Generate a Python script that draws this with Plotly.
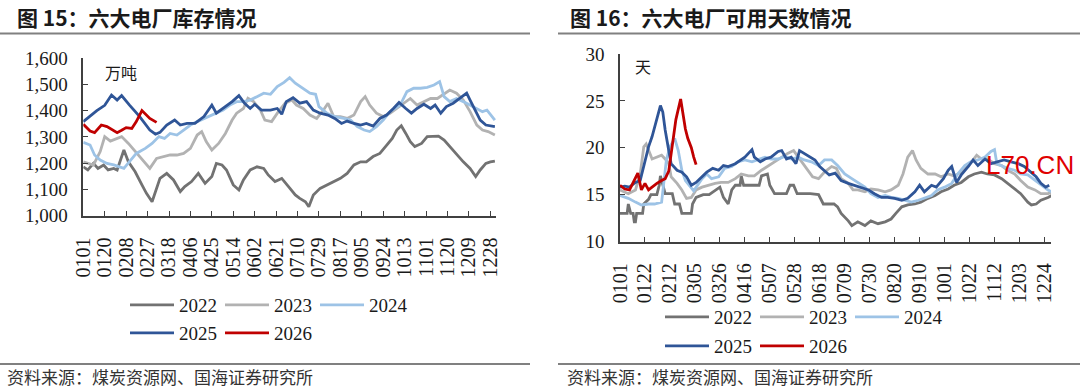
import plotly.graph_objects as go
from datetime import date


def doy(mmdd):
    return (date(2023, int(mmdd[:2]), int(mmdd[2:])) - date(2023, 1, 1)).days


years = ["2022", "2023", "2024", "2025", "2026"]
colors = {"2022": "#727272", "2023": "#b2b2b2", "2024": "#9dc3e6",
          "2025": "#2f5597", "2026": "#c00000"}

left_tick_labels = ["0101", "0120", "0208", "0227", "0318", "0406", "0425", "0514",
                    "0602", "0621", "0710", "0729", "0817", "0905", "0924", "1013",
                    "1101", "1120", "1209", "1228"]
right_tick_labels = ["0101", "0122", "0212", "0305", "0326", "0416", "0507", "0528",
                     "0618", "0709", "0730", "0820", "0910", "1001", "1022", "1112",
                     "1203", "1224"]

# ---------- 图15 六大电厂库存 (万吨), x = day of year ----------
inv_2022_day = [0, 4, 9, 13, 18, 22, 27, 30, 33, 36, 40, 46, 52, 56, 61, 64, 68, 74, 80, 86,
                90, 96, 102, 108, 114, 118, 123, 127, 133, 138, 142, 148, 154, 160, 164, 170,
                176, 182, 188, 192, 197, 200, 204, 210, 216, 222, 228, 234, 240, 246, 251,
                257, 263, 268, 274, 278, 282, 286, 290, 294, 300, 305, 311, 315, 320, 325,
                331, 337, 343, 348, 352, 357, 361, 365]
inv_2022_val = [1186, 1174, 1199, 1180, 1193, 1174, 1180, 1174, 1212, 1250, 1205, 1167, 1117,
                1085, 1053, 1092, 1142, 1161, 1136, 1092, 1111, 1130, 1161, 1123, 1149, 1199,
                1193, 1174, 1117, 1098, 1136, 1174, 1186, 1180, 1155, 1130, 1142, 1111, 1079,
                1066, 1053, 1034, 1079, 1104, 1117, 1130, 1142, 1161, 1193, 1205, 1205, 1225,
                1237, 1263, 1294, 1326, 1342, 1313, 1282, 1263, 1275, 1301, 1301, 1303, 1288,
                1263, 1231, 1205, 1180, 1149, 1174, 1199, 1205, 1208]

inv_2023_day = [0, 9, 15, 19, 24, 30, 34, 40, 46, 52, 59, 65, 71, 77, 83, 89, 95, 101, 105,
                109, 114, 120, 126, 132, 136, 142, 146, 151, 157, 161, 167, 173, 179, 185,
                189, 195, 201, 207, 213, 217, 222, 228, 234, 240, 246, 250, 254, 260, 266,
                272, 278, 284, 290, 296, 302, 308, 314, 320, 325, 331, 337, 343, 349, 354,
                359, 365]
inv_2023_val = [1205, 1193, 1244, 1301, 1284, 1294, 1301, 1275, 1244, 1212, 1180, 1218, 1225,
                1231, 1231, 1237, 1256, 1307, 1320, 1282, 1250, 1275, 1313, 1364, 1390, 1408,
                1447, 1434, 1402, 1364, 1358, 1396, 1428, 1440, 1421, 1408, 1383, 1370, 1402,
                1428, 1377, 1377, 1370, 1383, 1434, 1453, 1421, 1390, 1377, 1390, 1408, 1428,
                1446, 1421, 1434, 1446, 1446, 1462, 1478, 1466, 1440, 1396, 1345, 1326, 1320,
                1307]

inv_2024_day = [0, 6, 10, 15, 21, 27, 36, 41, 47, 55, 61, 67, 72, 77, 83, 89, 95, 101, 107,
                112, 118, 124, 130, 136, 142, 148, 154, 160, 166, 172, 178, 183, 188, 194,
                201, 206, 209, 216, 223, 231, 237, 243, 249, 254, 260, 266, 272, 281, 287,
                293, 299, 305, 311, 316, 320, 325, 331, 337, 343, 349, 354, 358, 365]
inv_2024_val = [1279, 1269, 1231, 1212, 1199, 1193, 1180, 1205, 1237, 1256, 1275, 1301, 1294,
                1313, 1307, 1326, 1345, 1358, 1370, 1377, 1390, 1402, 1421, 1434, 1434, 1440,
                1453, 1466, 1462, 1491, 1507, 1525, 1504, 1485, 1466, 1462, 1415, 1390, 1377,
                1370, 1364, 1339, 1326, 1320, 1339, 1364, 1396, 1421, 1472, 1485, 1485, 1488,
                1497, 1510, 1453, 1434, 1446, 1434, 1421, 1408, 1396, 1402, 1364]

inv_2025_day = [0, 12, 19, 25, 30, 34, 41, 50, 59, 64, 68, 74, 81, 86, 92, 99, 107, 114, 118,
                124, 132, 138, 143, 148, 152, 158, 166, 172, 176, 180, 186, 192, 198, 204,
                210, 217, 223, 229, 234, 240, 246, 251, 257, 263, 269, 275, 280, 286, 291,
                296, 302, 308, 312, 317, 322, 328, 334, 340, 343, 348, 352, 357, 365]
inv_2025_val = [1358, 1400, 1420, 1459, 1440, 1457, 1421, 1377, 1326, 1310, 1317, 1345, 1364,
                1345, 1351, 1351, 1377, 1421, 1390, 1408, 1434, 1457, 1428, 1408, 1424, 1402,
                1402, 1408, 1386, 1434, 1449, 1428, 1434, 1402, 1390, 1383, 1370, 1351, 1360,
                1351, 1345, 1351, 1341, 1370, 1383, 1408, 1431, 1408, 1390, 1408, 1424, 1408,
                1421, 1390, 1415, 1428, 1446, 1466, 1440, 1396, 1364, 1345, 1339]

inv_2026_day = [0, 6, 10, 12, 16, 21, 25, 30, 34, 38, 43, 47, 52, 55, 59, 65]
inv_2026_val = [1348, 1322, 1316, 1325, 1345, 1339, 1330, 1316, 1325, 1335, 1332, 1358, 1400,
                1388, 1370, 1355]

# ---------- 图16 六大电厂可用天数 (天) ----------
days_2022_day = [0, 6, 7, 9, 11, 12, 13, 14, 19, 20, 24, 26, 31, 33, 34, 36, 38, 44, 46, 50,
                 52, 60, 61, 64, 70, 75, 80, 84, 87, 91, 94, 97, 101, 102, 104, 108, 117, 119,
                 124, 126, 130, 140, 143, 146, 149, 160, 167, 171, 180, 183, 186, 192, 195,
                 200, 206, 211, 217, 223, 228, 232, 237, 242, 248, 253, 259, 265, 270, 276,
                 281, 287, 293, 298, 304, 309, 315, 321, 326, 332, 337, 343, 346, 350, 354,
                 360, 363]
days_2022_val = [13.0, 13.0, 14.0, 13.0, 13.0, 12.1, 12.1, 13.0, 13.0, 14.0, 14.5, 15.0, 15.0,
                 16.0, 17.0, 16.0, 15.1, 15.1, 14.0, 14.0, 13.0, 13.0, 14.0, 14.7, 15.0, 15.0,
                 15.5, 15.8, 14.7, 14.0, 15.5, 16.0, 16.0, 17.0, 16.0, 16.0, 16.0, 17.0, 17.2,
                 16.0, 15.1, 15.1, 16.0, 16.0, 15.1, 15.1, 15.0, 14.0, 14.0, 13.7, 13.0, 12.2,
                 11.7, 12.1, 11.7, 12.2, 11.9, 12.1, 12.4, 13.0, 13.7, 13.9, 14.0, 14.2, 14.6,
                 14.9, 15.3, 15.6, 16.0, 16.3, 16.9, 17.2, 17.4, 17.2, 17.1, 16.7, 16.2, 15.6,
                 15.1, 14.2, 13.9, 14.0, 14.4, 14.7, 14.9]

days_2023_day = [0, 7, 13, 17, 20, 22, 27, 31, 35, 38, 41, 43, 48, 52, 56, 60, 64, 69, 74, 80,
                 85, 91, 97, 102, 108, 113, 119, 125, 130, 136, 141, 146, 150, 154, 158, 162,
                 167, 172, 178, 182, 186, 192, 196, 200, 206, 211, 217, 223, 228, 234, 238,
                 242, 246, 249, 253, 259, 265, 270, 276, 281, 287, 293, 297, 300, 304, 309,
                 315, 321, 326, 332, 337, 343, 349, 354, 360, 363]
days_2023_val = [15.5, 15.1, 15.5, 17.2, 20.1, 20.4, 18.8, 19.0, 19.2, 18.8, 18.3, 16.9, 16.2,
                 15.5, 14.6, 14.7, 15.5, 15.8, 16.0, 16.2, 16.3, 16.3, 16.7, 17.2, 17.0, 17.0,
                 17.6, 18.1, 18.5, 19.0, 19.4, 19.7, 19.0, 18.3, 17.6, 16.9, 16.7, 17.4, 18.0,
                 17.8, 16.7, 16.2, 15.5, 15.5, 15.3, 15.6, 15.5, 15.3, 15.5, 16.0, 17.2, 19.0,
                 19.7, 18.7, 17.8, 17.2, 17.2, 16.9, 17.2, 17.0, 17.4, 18.1, 18.7, 19.2, 18.8,
                 18.8, 18.3, 18.1, 17.6, 17.2, 16.5, 15.8, 15.5, 15.1, 15.1, 15.3]

days_2024_day = [0, 7, 13, 18, 24, 29, 35, 37, 39, 42, 46, 49, 52, 55, 57, 62, 69, 73, 77, 83,
                 88, 94, 99, 105, 111, 116, 122, 127, 133, 139, 144, 150, 155, 161, 167, 172,
                 178, 183, 189, 195, 200, 206, 211, 217, 223, 228, 234, 239, 245, 251, 256,
                 262, 267, 273, 279, 284, 290, 295, 301, 307, 312, 315, 317, 321, 326, 332,
                 337, 343, 349, 354, 360, 363]
days_2024_val = [14.9, 14.6, 14.2, 13.9, 14.0, 14.0, 14.2, 16.2, 18.7, 20.1, 21.0, 19.7, 17.6,
                 16.5, 16.2, 15.4, 16.7, 17.2, 16.7, 16.9, 17.8, 18.0, 18.5, 18.7, 18.5, 18.7,
                 19.0, 18.8, 18.8, 19.1, 18.8, 19.0, 18.7, 18.5, 18.1, 18.7, 18.7, 18.1, 17.2,
                 16.7, 16.3, 15.8, 15.1, 14.7, 14.9, 14.7, 14.6, 14.4, 14.2, 14.4, 14.6, 14.9,
                 15.5, 15.8, 16.2, 17.2, 18.1, 18.5, 18.7, 19.0, 19.6, 19.8, 18.3, 18.1, 17.8,
                 17.6, 17.2, 17.1, 16.5, 16.0, 15.5, 15.3]

days_2025_day = [0, 4, 8, 13, 17, 21, 24, 27, 29, 32, 34, 36, 38, 41, 43, 48, 52, 56, 60, 64,
                 69, 73, 78, 83, 87, 91, 97, 101, 105, 111, 113, 118, 122, 127, 133, 136, 140,
                 144, 148, 151, 155, 160, 164, 168, 172, 176, 181, 186, 192, 197, 203, 209,
                 214, 220, 225, 231, 237, 242, 248, 252, 256, 262, 266, 272, 276, 279, 283,
                 287, 293, 297, 301, 307, 312, 318, 323, 329, 335, 340, 346, 350, 354, 358,
                 361]
days_2025_val = [15.8, 15.9, 15.8, 16.3, 16.5, 18.7, 20.1, 21.2, 22.2, 23.8, 24.5, 23.8, 21.9,
                 19.7, 18.3, 17.6, 17.4, 16.9, 16.0, 16.3, 16.9, 17.4, 17.8, 17.6, 18.1, 18.0,
                 18.3, 18.7, 19.0, 19.8, 19.0, 18.5, 18.8, 19.0, 19.6, 19.7, 18.8, 19.0, 18.3,
                 19.7, 19.4, 19.0, 18.7, 18.0, 17.6, 17.1, 17.3, 16.5, 16.2, 16.0, 15.8, 15.5,
                 15.1, 14.7, 14.7, 14.6, 14.4, 14.6, 15.3, 16.0, 15.3, 16.0, 15.8, 16.7, 17.6,
                 18.0, 16.3, 17.1, 18.0, 18.7, 18.1, 18.8, 18.3, 18.5, 18.7, 18.5, 18.3, 18.0,
                 17.4, 16.9, 16.2, 15.8, 16.0]

days_2026_day = [0, 4, 8, 13, 15, 18, 21, 24, 27, 31, 35, 38, 41, 44, 47, 51, 53, 55, 57, 60,
                 62, 64]
days_2026_val = [16.0, 15.6, 15.5, 16.9, 17.3, 15.5, 16.2, 15.5, 15.8, 16.2, 16.5, 16.7, 17.5,
                 20.5, 23.0, 25.2, 23.5, 22.0, 21.0, 20.0, 19.0, 18.2]

left_series = {"2022": (inv_2022_day, inv_2022_val), "2023": (inv_2023_day, inv_2023_val),
               "2024": (inv_2024_day, inv_2024_val), "2025": (inv_2025_day, inv_2025_val),
               "2026": (inv_2026_day, inv_2026_val)}
right_series = {"2022": (days_2022_day, days_2022_val), "2023": (days_2023_day, days_2023_val),
                "2024": (days_2024_day, days_2024_val), "2025": (days_2025_day, days_2025_val),
                "2026": (days_2026_day, days_2026_val)}

W, H = 1080, 389
SERIF = "Liberation Serif"
CJK = "Noto Sans CJK SC"
INK = "#1a1a1a"
AX = "#404040"


def py(px):
    return 1 - px / H


def pxx(px):
    return px / W


fig = go.Figure()
for yr in years:
    d, v = left_series[yr]
    fig.add_trace(go.Scatter(x=d, y=v, mode="lines", name=yr,
                             line=dict(color=colors[yr], width=2.8),
                             xaxis="x", yaxis="y",
                             legend="legend" if yr in ("2022", "2023", "2024") else "legend2"))
for yr in years:
    d, v = right_series[yr]
    fig.add_trace(go.Scatter(x=d, y=v, mode="lines", name=yr,
                             line=dict(color=colors[yr], width=2.8),
                             xaxis="x2", yaxis="y2",
                             legend="legend3" if yr in ("2022", "2023", "2024") else "legend4"))

xcommon = dict(showgrid=False, zeroline=False, showline=True, linecolor=AX, linewidth=1.5,
               ticks="inside", ticklen=5, tickwidth=1.3, tickcolor=AX, tickangle=-90,
               tickfont=dict(family=SERIF, size=20, color=INK), ticklabelstandoff=12,
               automargin=False)
ycommon = dict(showgrid=False, zeroline=False, showline=True, linecolor=AX, linewidth=1.5,
               ticks="inside", ticklen=5, tickwidth=1.3, tickcolor=AX,
               tickfont=dict(family=SERIF, size=19, color=INK), ticklabelstandoff=10,
               automargin=False)

leg = dict(orientation="h", bgcolor="rgba(0,0,0,0)", xanchor="left", yanchor="middle",
           font=dict(family=SERIF, size=19, color=INK), itemwidth=44, entrywidth=36,
           entrywidthmode="pixels", itemclick=False, itemdoubleclick=False)

fig.update_layout(
    template="none",
    width=W, height=H, margin=dict(l=0, r=0, t=0, b=0, pad=0, autoexpand=False),
    paper_bgcolor="white", plot_bgcolor="white", showlegend=True,
    xaxis=dict(xcommon, domain=[pxx(83.3), pxx(496)], range=[0, 366], anchor="y",
               tickvals=[doy(t) for t in left_tick_labels], ticktext=left_tick_labels),
    yaxis=dict(ycommon, domain=[py(215.7), py(58)], range=[1000, 1600], dtick=100,
               tickformat=",d", anchor="x"),
    xaxis2=dict(xcommon, domain=[pxx(620), pxx(1051)], range=[0, 362.5], anchor="y2",
                tickvals=[doy(t) for t in right_tick_labels], ticktext=right_tick_labels),
    yaxis2=dict(ycommon, domain=[py(241.5), py(54)], range=[10, 30], dtick=5, anchor="x2"),
    legend=dict(leg, x=pxx(125), y=py(305)),
    legend2=dict(leg, x=pxx(125), y=py(333)),
    legend3=dict(leg, x=pxx(660), y=py(317)),
    legend4=dict(leg, x=pxx(660), y=py(346)),
    separators=".,",
)

title_font = dict(family=CJK, size=21, color=INK, weight="bold")
src_font = dict(family=CJK, size=17, color="#333333")
anns = [
    dict(text="图 15：六大电厂库存情况", x=pxx(15), y=py(17), font=title_font),
    dict(text="图 16：六大电厂可用天数情况", x=pxx(568), y=py(17), font=title_font),
    dict(text="资料来源：煤炭资源网、国海证券研究所", x=pxx(5), y=py(376), font=src_font),
    dict(text="资料来源：煤炭资源网、国海证券研究所", x=pxx(565), y=py(376), font=src_font),
    dict(text="万吨", x=pxx(103), y=py(72), font=dict(family=CJK, size=16, color=INK)),
    dict(text="天", x=pxx(633), y=py(66), font=dict(family=CJK, size=16, color=INK)),
    dict(text="L70.CN", x=pxx(984), y=py(165),
         font=dict(family="Liberation Sans", size=26, color="#e00000")),
]
for a in anns:
    fig.add_annotation(xref="paper", yref="paper", xanchor="left", yanchor="middle",
                       showarrow=False, **a)

for x0, x1 in ((0, 530), (558, 1080)):
    for yy in (33.5, 364):
        fig.add_shape(type="line", xref="paper", yref="paper", x0=pxx(x0), x1=pxx(x1),
                      y0=py(yy), y1=py(yy), line=dict(color="#808080", width=1.8))

fig.write_html("out.html", config={"displayModeBar": False},
               post_script="document.body.style.margin='0';document.body.style.overflow='hidden';")
